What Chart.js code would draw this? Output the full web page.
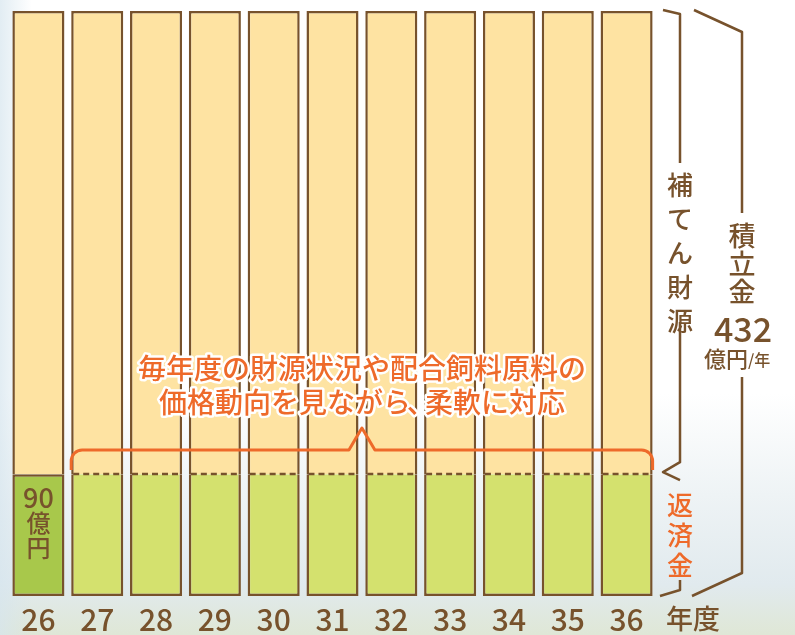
<!DOCTYPE html>
<html>
<head>
<meta charset="utf-8">
<script src="https://cdn.jsdelivr.net/npm/chart.js@4.4.1/dist/chart.umd.min.js"></script>
<style>
	html, body { margin: 0; padding: 0; }
	body {
		width: 795px; height: 635px; overflow: hidden;
		background:
			linear-gradient(to right, rgba(214, 229, 238, 0.7) 0%, rgba(255, 255, 255, 0) 4%),
			linear-gradient(to bottom, #ffffff 0%, #ffffff 62%, #eef3f5 78%, #e1eaee 92%, #dfe7d6 100%);
	}
	#chart-wrap { position: relative; width: 795px; height: 635px; }
</style>
</head>
<body>
<div id="chart-wrap"><canvas id="fund-chart"></canvas></div>
<script>
// data (億円)
var years = ['26', '27', '28', '29', '30', '31', '32', '33', '34', '35', '36'];
var repayment = [90, 90, 90, 90, 90, 90, 90, 90, 90, 90, 90];
var supplement = [342, 342, 342, 342, 342, 342, 342, 342, 342, 342, 342];
var totalPerYear = 432;

var brown = '#77522c';
var orange = '#ee6a2a';
var yellow = '#fee3a2';
var greenDark = '#a8c84b';
var greenLight = '#d4e16e';
var jpFont = "'Noto Sans CJK JP', 'Noto Sans', sans-serif";

// vertical text helper
function drawVertical(ctx, chars, x, y, pitch) {
	for (var i = 0; i < chars.length; i++) {
		ctx.fillText(chars[i], x, y + i * pitch);
	}
}

function polyline(ctx, pts) {
	ctx.beginPath();
	ctx.moveTo(pts[0][0], pts[0][1]);
	for (var i = 1; i < pts.length; i++) ctx.lineTo(pts[i][0], pts[i][1]);
	ctx.stroke();
}

// text with white halo, pieces laid out left to right (comma kept narrow)
function haloPieces(ctx, pieces, cx, y) {
	var widths = pieces.map(function (p) {
		return p === '、' ? ctx.measureText(p).width * 0.5 : ctx.measureText(p).width;
	});
	var total = widths.reduce(function (a, b) { return a + b; }, 0);
	var x = cx - total / 2;
	ctx.textAlign = 'left';
	for (var i = 0; i < pieces.length; i++) {
		var px = pieces[i] === '、' ? x - widths[i] * 0.3 : x;
		ctx.strokeStyle = '#ffffff';
		ctx.lineWidth = 5;
		ctx.strokeText(pieces[i], px, y);
		ctx.fillStyle = orange;
		ctx.fillText(pieces[i], px, y);
		x += widths[i];
	}
	ctx.textAlign = 'center';
}

// Annotations drawn over the bars
var annotations = {
	id: 'annotations',
	afterDatasetsDraw: function (chart) {
		var ctx = chart.ctx;
		var yScale = chart.scales.y;
		var bars = chart.getDatasetMeta(0).data;
		var y90 = Math.round(yScale.getPixelForValue(repayment[0]));

		ctx.save();

		// dashed line at top of repayment for 27-36
		ctx.strokeStyle = brown;
		ctx.lineWidth = 2.5;
		ctx.setLineDash([6, 4]);
		for (var i = 1; i < bars.length; i++) {
			var b = bars[i];
			ctx.beginPath();
			ctx.moveTo(b.x - b.width / 2 + 2, y90);
			ctx.lineTo(b.x + b.width / 2 - 2, y90);
			ctx.stroke();
		}
		ctx.setLineDash([]);

		// 90億円 on first bar
		ctx.fillStyle = brown;
		ctx.textAlign = 'center';
		ctx.textBaseline = 'middle';
		ctx.font = '500 27px ' + jpFont;
		ctx.fillText('90', bars[0].x, y90 + 24);
		ctx.font = '500 24px ' + jpFont;
		drawVertical(ctx, ['億', '円'], bars[0].x, y90 + 49, 25);

		// orange bracket
		var left = bars[1].x - bars[1].width / 2;
		var right = bars[bars.length - 1].x + bars[bars.length - 1].width / 2;
		var mid = (left + right) / 2;
		var yLine = y90 - 24;
		var yEnd = y90 - 4;
		var r = 11;
		ctx.strokeStyle = orange;
		ctx.lineWidth = 3;
		ctx.lineJoin = 'round';
		ctx.beginPath();
		ctx.moveTo(left, yEnd);
		ctx.lineTo(left, yLine + r);
		ctx.arcTo(left, yLine, left + r, yLine, r);
		ctx.lineTo(mid - 13, yLine);
		ctx.lineTo(mid, yLine - 22);
		ctx.lineTo(mid + 13, yLine);
		ctx.lineTo(right - r, yLine);
		ctx.arcTo(right, yLine, right, yLine + r, r);
		ctx.lineTo(right, yEnd);
		ctx.stroke();

		// orange caption
		ctx.font = '500 28px ' + jpFont;
		haloPieces(ctx, ['毎年度の財源状況や配合飼料原料の'], mid, yLine - 82);
		haloPieces(ctx, ['価格動向を見ながら', '、', '柔軟に対応'], mid, yLine - 48);
		ctx.restore();
	},

	afterDraw: function (chart) {
		var ctx = chart.ctx;
		var yScale = chart.scales.y;
		var area = chart.chartArea;
		var yTop = yScale.getPixelForValue(totalPerYear);
		var y90 = yScale.getPixelForValue(repayment[0]);
		var yBottom = yScale.getPixelForValue(0);
		var xIn = area.right + 24;
		var xOut = area.right + 86;

		ctx.save();
		ctx.strokeStyle = brown;
		ctx.lineWidth = 2.5;
		ctx.lineJoin = 'round';

		// inner bracket (補てん財源 / 返済金)
		polyline(ctx, [[xIn - 17, yTop - 1], [xIn, yTop + 3], [xIn, yTop + 152]]);
		polyline(ctx, [[xIn, yTop + 311], [xIn, y90 - 12], [xIn - 17, y90 - 2], [xIn, y90 + 6]]);
		polyline(ctx, [[xIn, yBottom - 16], [xIn, yBottom - 6], [xIn - 20, yBottom]]);

		// outer bracket (積立金)
		polyline(ctx, [[xOut - 48, yTop - 1], [xOut, yTop + 21], [xOut, yTop + 202]]);
		polyline(ctx, [[xOut, yTop + 366], [xOut, yBottom - 23], [xOut - 50, yBottom]]);

		ctx.textAlign = 'center';
		ctx.textBaseline = 'middle';
		ctx.fillStyle = brown;
		ctx.font = '500 26px ' + jpFont;
		drawVertical(ctx, ['補', 'て', 'ん', '財', '源'], xIn, yTop + 174, 34);
		ctx.font = '500 27px ' + jpFont;
		drawVertical(ctx, ['積', '立', '金'], xOut, yTop + 225, 28);
		ctx.font = '500 34px ' + jpFont;
		ctx.fillText('432', xOut + 1, yTop + 318);
		ctx.textAlign = 'left';
		ctx.font = '500 22px ' + jpFont;
		ctx.fillText('億円', xOut - 38, yTop + 348);
		ctx.font = '500 16px ' + jpFont;
		ctx.fillText('/年', xOut + 6, yTop + 349);

		ctx.textAlign = 'center';
		ctx.fillStyle = orange;
		ctx.font = '500 26px ' + jpFont;
		drawVertical(ctx, ['返', '済', '金'], xIn, y90 + 31, 30);

		// 年度 after the x labels
		ctx.fillStyle = brown;
		ctx.font = '500 27px ' + jpFont;
		ctx.fillText('年度', area.right + 37, yBottom + 23);
		ctx.restore();
	}
};

// Fund Stacked Bar Chart
var fundChart = function () {
	var canvas = document.getElementById('fund-chart');
	var ctx = canvas.getContext('2d');
	new Chart(ctx, {
		type: 'bar',
		data: {
			labels: years,
			datasets: [{
				label: '返済金',
				data: repayment,
				backgroundColor: function (c) { return c.dataIndex === 0 ? greenDark : greenLight; },
				borderColor: brown,
				borderWidth: function (c) {
					return c.dataIndex === 0 ? 2.5 : { top: 0, left: 2.5, right: 2.5, bottom: 2.5 };
				},
				borderSkipped: false,
			}, {
				label: '補てん財源',
				data: supplement,
				backgroundColor: yellow,
				borderColor: brown,
				borderWidth: 2.5,
				borderSkipped: 'start',
			}],
		},
		options: {
			responsive: false,
			animation: false,
			devicePixelRatio: 1,
			layout: {
				padding: { left: 9, right: 139, top: 11, bottom: 2 },
			},
			datasets: {
				bar: { categoryPercentage: 1, barPercentage: 0.885 },
			},
			plugins: {
				legend: { display: false },
				tooltip: { enabled: false },
			},
			scales: {
				x: {
					stacked: true,
					grid: { display: false, drawTicks: false },
					border: { display: false },
					afterFit: function (scale) { scale.height = 37; },
					ticks: {
						color: brown,
						padding: 9,
						font: { family: jpFont, size: 30, weight: '500', lineHeight: 1 },
						maxRotation: 0,
						autoSkip: false,
					},
				},
				y: {
					stacked: true,
					display: false,
					min: 0,
					max: totalPerYear,
				},
			},
		},
		plugins: [annotations],
	});
};

var c = document.getElementById('fund-chart');
c.width = 795;
c.height = 635;
fundChart();
</script>
</body>
</html>
